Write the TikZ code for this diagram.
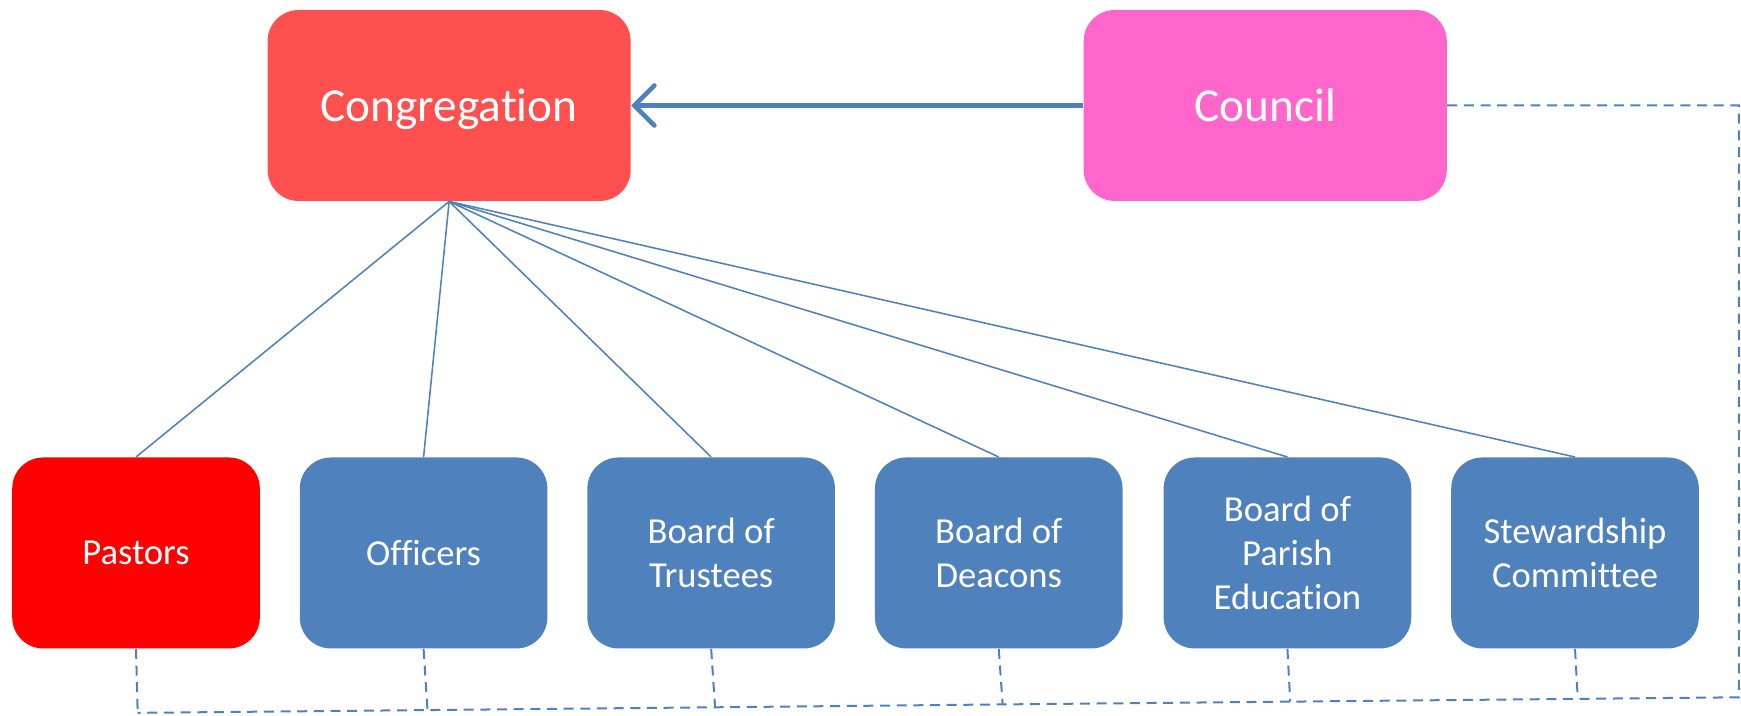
\documentclass[tikz,border=0pt]{standalone}
\usepackage{fontspec}
\setmainfont[Ligatures=NoCommon]{Carlito}
\usetikzlibrary{arrows.meta}
\definecolor{blu}{HTML}{4F81BD}
\definecolor{congred}{HTML}{FF5050}
\definecolor{counpink}{HTML}{FF66CC}
\definecolor{pasred}{HTML}{FF0000}
\begin{document}
\begin{tikzpicture}[x=0.5pt,y=-0.5pt,
  topbox/.style={rectangle, rounded corners=14pt, minimum width=163.5pt, minimum height=86pt, inner sep=0pt, text=white, text height=17pt, text depth=3pt, font=\fontsize{21.3}{25}\selectfont},
  lowbox/.style={rectangle, rounded corners=14pt, minimum width=111.5pt, minimum height=86pt, inner sep=0pt, text=white, align=center, font=\fontsize{16.5}{20}\selectfont, fill=blu},
  link/.style={draw=blu, line width=0.7pt},
  buslink/.style={draw=blu, line width=0.9pt, dash pattern=on 4.5pt off 3pt},
  arrowlink/.style={draw=blu, line width=2.1pt, -{Straight Barb[length=9pt, width=18pt, line cap=round]}}
]
\useasboundingbox (0,0) rectangle (1568,644);
\node[topbox, fill=congred] (cong) at (404.5,95) {Congregation};
\node[topbox, fill=counpink] (coun) at (1139.5,95) {Council};
\node[lowbox, fill=pasred] (pas) at (122.5,498) {\raisebox{-1pt}{Pastors}};
\node[lowbox] (off) at (381.5,498) {\raisebox{-1pt}{Officers}};
\node[lowbox] (tru) at (640.5,498) {Board of\\Trustees};
\node[lowbox] (dea) at (899.5,498) {Board of\\Deacons};
\node[lowbox] (par) at (1159.5,498) {Board of\\Parish\\Education};
\node[lowbox] (ste) at (1418.5,498) {Stewardship\\Committee};

\draw[arrowlink] (coun.west) -- (cong.east);

\foreach \n in {pas,off,tru,dea,par,ste}
  \draw[link] (cong.south) -- (\n.north);

\coordinate (r1) at (1566,95);
\coordinate (r2) at (1566,628);
\coordinate (b1) at (124,642);
\coordinate (b2) at (385,639.5);
\coordinate (b3) at (644,637);
\coordinate (b4) at (903,634.4);
\coordinate (b5) at (1162,631.9);
\coordinate (b6) at (1421,629.4);
\draw[buslink] (coun.east) -- (r1) -- (r2) -- (b6) -- (b5) -- (b4) -- (b3) -- (b2) -- (b1);
\draw[buslink] (pas.south) -- (b1);
\draw[buslink] (off.south) -- (b2);
\draw[buslink] (tru.south) -- (b3);
\draw[buslink] (dea.south) -- (b4);
\draw[buslink] (par.south) -- (b5);
\draw[buslink] (ste.south) -- (b6);
\end{tikzpicture}
\end{document}
